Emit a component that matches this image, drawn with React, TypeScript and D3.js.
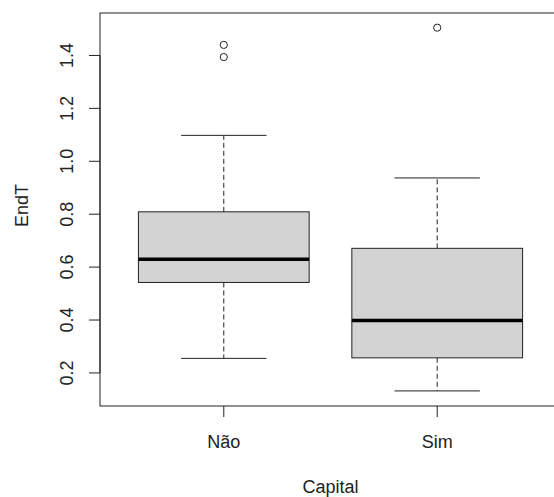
import React, { useEffect, useRef } from "react";
import * as d3 from "d3";

// data
const groups = ["Não", "Sim"];
const q1 = [0.542, 0.257];
const medians = [0.63, 0.398];
const q3 = [0.809, 0.671];
const whiskerLow = [0.255, 0.132];
const whiskerHigh = [1.098, 0.937];
const outliers = [[1.394, 1.44], [1.505]];
const yTicks = [0.2, 0.4, 0.6, 0.8, 1.0, 1.2, 1.4];

const W = 554;
const H = 497;
const FONT = "'Liberation Sans', Arial, sans-serif";

export default function App() {
  const svgRef = useRef<SVGSVGElement>(null);

  useEffect(() => {
    const svg = d3.select(svgRef.current);
    svg.selectAll("*").remove();

    const left = 100, right = 561, top = 13, bottom = 406;
    // R style: xlim 0.5..2.5 extended 4%
    const x = d3.scaleLinear().domain([0.42, 2.58]).range([left, right]);
    const y = d3.scaleLinear().domain([0.075, 1.5605]).range([bottom, top]);

    const g = svg.append("g");

    // boxes
    groups.forEach((name, i) => {
      const cx = x(i + 1);
      const bw = x(1.4) - x(1);
      const cw = bw / 2;
      const stroke = "#222";

      // whiskers (dashed)
      g.append("line")
        .attr("x1", cx).attr("x2", cx)
        .attr("y1", y(q3[i])).attr("y2", y(whiskerHigh[i]))
        .attr("stroke", stroke).attr("stroke-dasharray", "5,3");
      g.append("line")
        .attr("x1", cx).attr("x2", cx)
        .attr("y1", y(q1[i])).attr("y2", y(whiskerLow[i]))
        .attr("stroke", stroke).attr("stroke-dasharray", "5,3");
      // caps
      [whiskerHigh[i], whiskerLow[i]].forEach((v) => {
        g.append("line")
          .attr("x1", cx - cw).attr("x2", cx + cw)
          .attr("y1", y(v)).attr("y2", y(v))
          .attr("stroke", stroke);
      });
      // box
      g.append("rect")
        .attr("x", cx - bw).attr("width", bw * 2)
        .attr("y", y(q3[i])).attr("height", y(q1[i]) - y(q3[i]))
        .attr("fill", "#d3d3d3").attr("stroke", stroke);
      // median
      g.append("line")
        .attr("x1", cx - bw).attr("x2", cx + bw)
        .attr("y1", y(medians[i])).attr("y2", y(medians[i]))
        .attr("stroke", "#000").attr("stroke-width", 3.5);
      // outliers
      outliers[i].forEach((v) => {
        g.append("circle")
          .attr("cx", cx).attr("cy", y(v)).attr("r", 3.6)
          .attr("fill", "none").attr("stroke", stroke);
      });
    });

    // frame
    svg.append("rect")
      .attr("x", left).attr("y", top)
      .attr("width", right - left).attr("height", bottom - top)
      .attr("fill", "none").attr("stroke", "#222");

    // y axis
    const yAxis = svg.append("g");
    yAxis.append("line")
      .attr("x1", left).attr("x2", left)
      .attr("y1", y(0.2)).attr("y2", y(1.4)).attr("stroke", "#222");
    yTicks.forEach((t) => {
      yAxis.append("line")
        .attr("x1", left - 11).attr("x2", left)
        .attr("y1", y(t)).attr("y2", y(t)).attr("stroke", "#222");
      yAxis.append("text")
        .attr("transform", `translate(67,${y(t)}) rotate(-90)`)
        .attr("text-anchor", "middle")
        .attr("dominant-baseline", "central")
        .attr("font-family", FONT).attr("font-size", 18).attr("fill", "#222")
        .text(t.toFixed(1));
    });

    // x axis
    groups.forEach((name, i) => {
      svg.append("line")
        .attr("x1", x(i + 1)).attr("x2", x(i + 1))
        .attr("y1", bottom).attr("y2", bottom + 11).attr("stroke", "#222");
      svg.append("text")
        .attr("x", x(i + 1)).attr("y", 442)
        .attr("text-anchor", "middle")
        .attr("dominant-baseline", "central")
        .attr("font-family", FONT).attr("font-size", 18).attr("fill", "#222")
        .text(name);
    });

    // axis titles
    svg.append("text")
      .attr("x", (left + right) / 2).attr("y", 487)
      .attr("text-anchor", "middle")
      .attr("dominant-baseline", "central")
      .attr("font-family", FONT).attr("font-size", 18).attr("fill", "#222")
      .text("Capital");
    svg.append("text")
      .attr("transform", `translate(22,${(top + bottom) / 2 - 4}) rotate(-90)`)
      .attr("text-anchor", "middle")
      .attr("dominant-baseline", "central")
      .attr("font-family", FONT).attr("font-size", 18).attr("fill", "#222")
      .text("EndT");
  }, []);

  return (
    <div style={{ position: "absolute", left: 0, top: 0, width: W, height: H, background: "#fff", overflow: "hidden" }}>
      <svg ref={svgRef} width={W} height={H} style={{ display: "block" }} />
    </div>
  );
}
